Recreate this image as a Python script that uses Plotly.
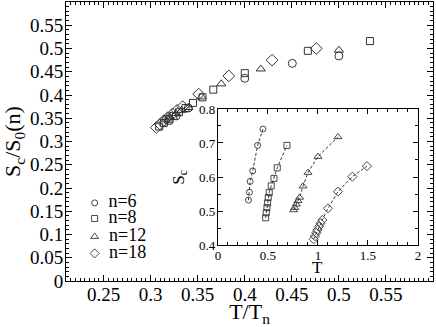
import plotly.graph_objects as go

# ---- main panel data: T/T_n vs S_c/S_0(n)
n6_x = [0.320, 0.327, 0.340, 0.400, 0.4505, 0.500]
n6_y = [0.345, 0.355, 0.372, 0.436, 0.468, 0.484]
n8_x = [0.309, 0.314, 0.319, 0.324, 0.330, 0.337, 0.345, 0.355, 0.3665, 0.400, 0.467, 0.533]
n8_y = [0.332, 0.340, 0.348, 0.355, 0.363, 0.372, 0.383, 0.395, 0.4115, 0.447, 0.495, 0.516]
n12_x = [0.315, 0.320, 0.327, 0.333, 0.340, 0.354, 0.375, 0.417, 0.500]
n12_y = [0.348, 0.353, 0.360, 0.367, 0.373, 0.396, 0.424, 0.456, 0.4965]
n18_x = [0.306, 0.310, 0.314, 0.318, 0.323, 0.328, 0.334, 0.351, 0.383, 0.429, 0.476]
n18_y = [0.330, 0.337, 0.345, 0.351, 0.359, 0.367, 0.375, 0.402, 0.441, 0.475, 0.500]

# ---- inset data: T vs S_c
i6_T = [0.305, 0.315, 0.322, 0.348, 0.397, 0.45]
i6_S = [0.532, 0.555, 0.587, 0.618, 0.693, 0.741]
i8_T = [0.477, 0.483, 0.490, 0.497, 0.503, 0.513, 0.533, 0.560, 0.593, 0.690]
i8_S = [0.480, 0.495, 0.510, 0.524, 0.540, 0.554, 0.574, 0.596, 0.627, 0.693]
i12_T = [0.757, 0.767, 0.784, 0.800, 0.817, 0.850, 0.900, 1.000, 1.200]
i12_S = [0.503, 0.510, 0.520, 0.530, 0.540, 0.573, 0.613, 0.660, 0.718]
i18_T = [0.957, 0.970, 0.984, 0.994, 1.010, 1.027, 1.044, 1.100, 1.200, 1.344, 1.490]
i18_S = [0.417, 0.426, 0.436, 0.444, 0.454, 0.464, 0.4735, 0.508, 0.557, 0.601, 0.632]

labels = ["n=6", "n=8", "n=12", "n=18"]
symbols = ["circle-open", "square-open", "triangle-up-open", "diamond-open"]
main_sizes = [8, 7, 8, 9]
inset_sizes = [6, 6, 7, 7]
legend_sizes = [6, 6, 7, 7]
legend_rows = [0.280, 0.224, 0.159, 0.099]  # legend row heights (fraction of main panel)

main_xticks = [0.25, 0.3, 0.35, 0.4, 0.45, 0.5, 0.55]
main_xlabels = ["0.25", "0.3", "0.35", "0.4", "0.45", "0.5", "0.55"]
main_yticks = [0, 0.05, 0.1, 0.15, 0.2, 0.25, 0.3, 0.35, 0.4, 0.45, 0.5, 0.55]
main_ylabels = ["0", "0.05", "0.1", "0.15", "0.2", "0.25", "0.3", "0.35", "0.4", "0.45", "0.5", "0.55"]
inset_xticks = [0, 0.5, 1, 1.5, 2]
inset_xlabels = ["0", "0.5", "1", "1.5", "2"]
inset_yticks = [0.4, 0.5, 0.6, 0.7, 0.8]
inset_ylabels = ["0.4", "0.5", "0.6", "0.7", "0.8"]

FONT = "Liberation Serif"
MK = "#333333"

fig = go.Figure()
main_sets = [(n6_x, n6_y), (n8_x, n8_y), (n12_x, n12_y), (n18_x, n18_y)]
for (xs, ys), lab, sym, sz in zip(main_sets, labels, symbols, main_sizes):
    fig.add_trace(go.Scatter(x=xs, y=ys, mode="markers", name=lab, showlegend=False,
                             marker=dict(symbol=sym, size=sz, color=MK, line=dict(width=1, color=MK)),
                             xaxis="x", yaxis="y"))

# legend drawn on a hidden overlay axis spanning the main panel
for lab, sym, sz, yy in zip(labels, symbols, legend_sizes, legend_rows):
    fig.add_trace(go.Scatter(x=[0.078], y=[yy], mode="markers+text", text=["  " + lab],
                             textposition="middle right", showlegend=False, hoverinfo="skip",
                             textfont=dict(family=FONT, size=18, color="black"),
                             marker=dict(symbol=sym, size=sz, color=MK, line=dict(width=0.9, color=MK)),
                             xaxis="x3", yaxis="y3"))

inset_sets = [(i6_T, i6_S), (i8_T, i8_S), (i12_T, i12_S), (i18_T, i18_S)]
for (xs, ys), lab, sym, sz in zip(inset_sets, labels, symbols, inset_sizes):
    fig.add_trace(go.Scatter(x=xs, y=ys, mode="lines+markers", showlegend=False,
                             line=dict(color="black", width=0.8, dash="3px,2px"),
                             marker=dict(symbol=sym, size=sz, color=MK, line=dict(width=0.9, color=MK)),
                             xaxis="x2", yaxis="y2"))

axis_common = dict(showgrid=False, zeroline=False, showline=True, linecolor="black", linewidth=1,
                   mirror="allticks", ticks="inside", tickcolor="black", automargin=False)

fig.update_layout(
    width=436, height=327,
    margin=dict(l=66, r=3, t=2, b=46),
    paper_bgcolor="white", plot_bgcolor="white",
    font=dict(family=FONT, color="black"),
    xaxis=dict(domain=[0, 1], range=[0.21, 0.6], tickvals=main_xticks, ticktext=main_xlabels,
               ticklen=6, tickfont=dict(size=19, family=FONT), ticklabelstandoff=-4,
               minor=dict(dtick=0.005, tick0=0, ticklen=3, ticks="inside", tickcolor="black"),
               title=dict(text="T/T<sub>n</sub>", font=dict(size=22, family=FONT), standoff=2),
               **axis_common),
    yaxis=dict(domain=[0, 1], range=[0, 0.6], tickvals=main_yticks, ticktext=main_ylabels,
               ticklen=6, tickfont=dict(size=19, family=FONT), ticklabelstandoff=-2,
               minor=dict(dtick=0.01, tick0=0, ticklen=3, ticks="inside", tickcolor="black"),
               title=dict(text="S<sub>c</sub>/S<sub>0</sub>(n)", font=dict(size=22, family=FONT), standoff=4),
               **axis_common),
    xaxis3=dict(overlaying="x", anchor="y3", range=[0, 1], visible=False, fixedrange=True),
    yaxis3=dict(overlaying="y", anchor="x3", range=[0, 1], visible=False, fixedrange=True),
    xaxis2=dict(domain=[0.414, 0.959], anchor="y2", range=[0, 2], tickvals=inset_xticks, ticktext=inset_xlabels,
                ticklen=5, tickfont=dict(size=13, family=FONT), ticklabelstandoff=-2,
                minor=dict(dtick=0.1, tick0=0, ticklen=3, ticks="inside", tickcolor="black"),
                **axis_common),
    yaxis2=dict(domain=[0.129, 0.6165], anchor="x2", range=[0.4, 0.8], tickvals=inset_yticks, ticktext=inset_ylabels,
                ticklen=5, tickfont=dict(size=13, family=FONT), ticklabelstandoff=-1,
                minor=dict(dtick=0.05, tick0=0.4, ticklen=3, ticks="inside", tickcolor="black"),
                **axis_common),
    annotations=[
        dict(text="T", xref="x2", yref="paper", x=1.0, y=0.05, showarrow=False,
             font=dict(size=17, family=FONT), xanchor="center", yanchor="middle"),
        dict(text="S<sub>c</sub>", xref="paper", yref="paper", x=0.31, y=0.373, showarrow=False,
             textangle=-90, font=dict(size=17, family=FONT), xanchor="center", yanchor="middle"),
    ],
    showlegend=False,
)

fig.write_html("out.html", config={"displayModeBar": False},
               post_script="document.body.style.margin='0px';document.body.style.padding='0px';")
